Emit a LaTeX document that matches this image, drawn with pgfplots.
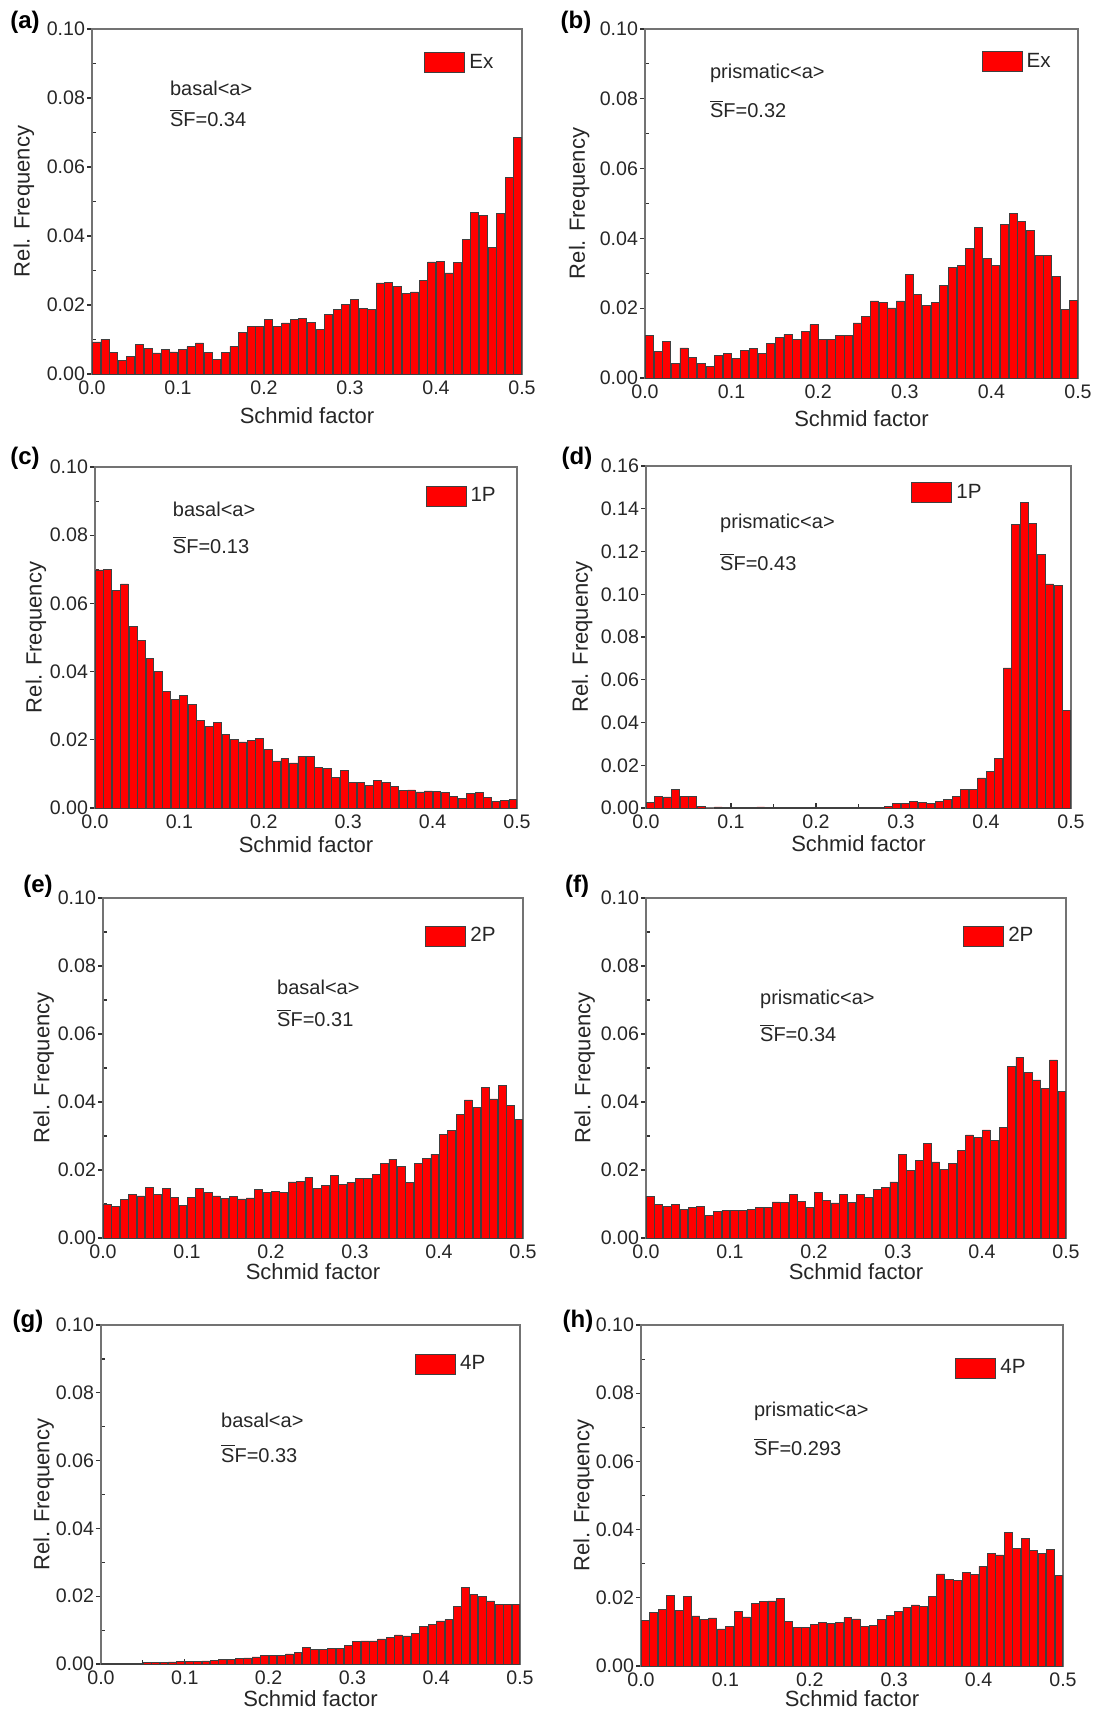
\documentclass[border=0pt]{standalone}
\usepackage{fontspec}
\setmainfont{Liberation Sans}
\usepackage{pgfplots}
\usepackage{pgfplotstable}
\pgfplotsset{compat=1.18}

\pgfplotstableread{
x a b c d e f g h
0.005 0.0093 0.0122 0.0698 0.0028 0.0098 0.0122 0.0001 0.0134
0.015 0.0100 0.0075 0.0700 0.0055 0.0092 0.0098 0.0001 0.0156
0.025 0.0063 0.0105 0.0639 0.0052 0.0113 0.0093 0.0002 0.0166
0.035 0.0039 0.0041 0.0657 0.0086 0.0127 0.0098 0.0002 0.0207
0.045 0.0051 0.0086 0.0533 0.0056 0.0124 0.0085 0.0003 0.0162
0.055 0.0085 0.0060 0.0492 0.0055 0.0150 0.0091 0.0004 0.0203
0.065 0.0073 0.0041 0.0439 0.0008 0.0128 0.0093 0.0004 0.0147
0.075 0.0061 0.0032 0.0400 0.0000 0.0146 0.0067 0.0005 0.0137
0.085 0.0071 0.0065 0.0342 0.0005 0.0119 0.0078 0.0006 0.0141
0.095 0.0064 0.0070 0.0319 0.0003 0.0097 0.0081 0.0007 0.0109
0.105 0.0071 0.0057 0.0329 0.0002 0.0119 0.0080 0.0008 0.0117
0.115 0.0079 0.0078 0.0303 0.0002 0.0147 0.0080 0.0008 0.0161
0.125 0.0090 0.0084 0.0257 0.0001 0.0135 0.0085 0.0009 0.0144
0.135 0.0062 0.0070 0.0238 0.0005 0.0124 0.0091 0.0011 0.0183
0.145 0.0043 0.0100 0.0251 0.0003 0.0117 0.0090 0.0013 0.0190
0.155 0.0063 0.0116 0.0216 0.0002 0.0122 0.0106 0.0014 0.0191
0.165 0.0080 0.0125 0.0200 0.0003 0.0115 0.0105 0.0016 0.0197
0.175 0.0120 0.0111 0.0194 0.0002 0.0118 0.0127 0.0018 0.0131
0.185 0.0138 0.0134 0.0197 0.0003 0.0144 0.0107 0.0021 0.0112
0.195 0.0139 0.0153 0.0205 0.0002 0.0134 0.0090 0.0026 0.0112
0.205 0.0157 0.0111 0.0172 0.0002 0.0138 0.0133 0.0026 0.0123
0.215 0.0138 0.0110 0.0138 0.0003 0.0134 0.0110 0.0026 0.0129
0.225 0.0148 0.0122 0.0145 0.0003 0.0165 0.0103 0.0030 0.0124
0.235 0.0159 0.0122 0.0132 0.0004 0.0166 0.0128 0.0035 0.0129
0.245 0.0160 0.0158 0.0152 0.0004 0.0178 0.0105 0.0048 0.0142
0.255 0.0150 0.0177 0.0152 0.0004 0.0147 0.0127 0.0042 0.0138
0.265 0.0130 0.0221 0.0118 0.0004 0.0154 0.0120 0.0044 0.0116
0.275 0.0172 0.0216 0.0117 0.0002 0.0184 0.0142 0.0046 0.0118
0.285 0.0186 0.0201 0.0090 0.0009 0.0157 0.0149 0.0046 0.0137
0.295 0.0201 0.0221 0.0109 0.0023 0.0164 0.0165 0.0056 0.0149
0.305 0.0215 0.0297 0.0076 0.0020 0.0175 0.0245 0.0066 0.0161
0.315 0.0189 0.0240 0.0074 0.0030 0.0176 0.0199 0.0068 0.0173
0.325 0.0186 0.0208 0.0066 0.0025 0.0188 0.0228 0.0068 0.0179
0.335 0.0264 0.0217 0.0081 0.0020 0.0220 0.0279 0.0074 0.0174
0.345 0.0266 0.0266 0.0075 0.0030 0.0232 0.0224 0.0078 0.0203
0.355 0.0254 0.0317 0.0064 0.0039 0.0210 0.0201 0.0086 0.0270
0.365 0.0233 0.0322 0.0052 0.0056 0.0164 0.0220 0.0083 0.0253
0.375 0.0238 0.0371 0.0053 0.0088 0.0220 0.0258 0.0091 0.0251
0.385 0.0272 0.0431 0.0047 0.0088 0.0234 0.0303 0.0111 0.0274
0.395 0.0325 0.0343 0.0050 0.0141 0.0247 0.0297 0.0118 0.0269
0.405 0.0327 0.0322 0.0048 0.0172 0.0305 0.0318 0.0127 0.0292
0.415 0.0293 0.0441 0.0046 0.0231 0.0317 0.0286 0.0131 0.0330
0.425 0.0324 0.0471 0.0035 0.0655 0.0364 0.0326 0.0171 0.0326
0.435 0.0389 0.0449 0.0029 0.1328 0.0406 0.0504 0.0226 0.0393
0.445 0.0469 0.0424 0.0044 0.1431 0.0383 0.0532 0.0206 0.0344
0.455 0.0459 0.0350 0.0046 0.1330 0.0442 0.0487 0.0200 0.0373
0.465 0.0368 0.0352 0.0032 0.1188 0.0409 0.0465 0.0186 0.0338
0.475 0.0466 0.0292 0.0020 0.1048 0.0450 0.0441 0.0176 0.0330
0.485 0.0569 0.0197 0.0023 0.1041 0.0391 0.0524 0.0176 0.0343
0.495 0.0685 0.0223 0.0024 0.0458 0.0350 0.0431 0.0177 0.0266
}\sfdata

\pgfplotsset{
  sfax/.style={
    scale only axis, anchor=north west,
    xmin=0, xmax=0.5, ymin=0, ymax=0.10,
    xtick={0,0.1,0.2,0.3,0.4,0.5},
    ytick={0,0.02,0.04,0.06,0.08,0.10},
    minor x tick num=1, minor y tick num=1,
    tick align=inside, xtick pos=bottom, ytick pos=left,
    major tick length=2.5pt, minor tick length=2pt,
    major y tick style={xshift=-2.5pt},
    axis line style={black!55, line width=0.7pt},
    every tick/.append style={black!80, line width=0.6pt},
    scaled x ticks=false, scaled y ticks=false,
    /pgf/number format/assume math mode=true,
    tick label style={black!85, font=\fontsize{9.8}{11}\selectfont},
    xticklabel style={/pgf/number format/.cd, fixed, fixed zerofill, precision=1},
    yticklabel style={/pgf/number format/.cd, fixed, fixed zerofill, precision=2},
    xlabel={Schmid factor}, ylabel={Rel. Frequency},
    label style={black!85, font=\fontsize{11}{12}\selectfont},
    legend style={draw=none, fill=none, anchor=north east, inner sep=0pt,
      font=\fontsize{10.3}{12}\selectfont, text=black!85},
    legend cell align=left,
  },
  sfbar/.style={ybar, bar width=0.0093, fill=red, draw=black!75, line width=0.35pt,
    legend image code/.code={\draw[fill=red, draw=black!75, line width=0.5pt] (0pt,-5pt) rectangle (20pt,5pt);}},
}
\tikzset{ann/.style={anchor=west, font=\fontsize{10}{12}\selectfont, text=black!85}}
\newcommand{\SF}{$\overline{\mbox{S}}$F}

\begin{document}
\begin{tikzpicture}
\useasboundingbox (0,0) rectangle (548pt,-856pt);

% (a)
\begin{axis}[sfax, at={(46pt,-14.5pt)}, width=215pt, height=172.5pt,
  legend style={at={(0.944,0.94)}},
  ylabel style={at={(axis description cs:-0.158,0.5)}, anchor=center},
  xlabel style={at={(axis description cs:0.5,-0.122)}, anchor=center}]
\addplot[sfbar] table[x=x, y=a] {\sfdata};
\addlegendentry{Ex}
\node[ann] at (rel axis cs:0.165,0.829) {basal<a>};
\node[ann] at (rel axis cs:0.165,0.742) {\SF=0.34};
\end{axis}

% (b)
\begin{axis}[sfax, at={(322.5pt,-14.5pt)}, width=216.5pt, height=174.5pt,
  legend style={at={(0.947,0.943)}},
  ylabel style={at={(axis description cs:-0.152,0.5)}, anchor=center},
  xlabel style={at={(axis description cs:0.5,-0.115)}, anchor=center}]
\addplot[sfbar] table[x=x, y=b] {\sfdata};
\addlegendentry{Ex}
\node[ann] at (rel axis cs:0.134,0.874) {prismatic<a>};
\node[ann] at (rel axis cs:0.134,0.771) {\SF=0.32};
\end{axis}

% (c)
\begin{axis}[sfax, at={(47.5pt,-233.5pt)}, width=211pt, height=170.5pt,
  legend style={at={(0.96,0.953)}},
  ylabel style={at={(axis description cs:-0.14,0.5)}, anchor=center},
  xlabel style={at={(axis description cs:0.5,-0.106)}, anchor=center}]
\addplot[sfbar] table[x=x, y=c] {\sfdata};
\addlegendentry{1P}
\node[ann] at (rel axis cs:0.168,0.877) {basal<a>};
\node[ann] at (rel axis cs:0.168,0.771) {\SF=0.13};
\end{axis}

% (d)
\begin{axis}[sfax, at={(323pt,-233pt)}, width=212.5pt, height=171pt,
  ymax=0.16, ytick={0,0.02,0.04,0.06,0.08,0.10,0.12,0.14,0.16}, minor y tick num=0,
  legend style={at={(0.8,0.96)}},
  ylabel style={at={(axis description cs:-0.15,0.5)}, anchor=center},
  xlabel style={at={(axis description cs:0.5,-0.105)}, anchor=center}]
\addplot[sfbar] table[x=x, y=d] {\sfdata};
\addlegendentry{1P}
\node[ann] at (rel axis cs:0.158,0.833) {prismatic<a>};
\node[ann] at (rel axis cs:0.158,0.719) {\SF=0.43};
\end{axis}

% (e)
\begin{axis}[sfax, at={(51.5pt,-449pt)}, width=210pt, height=170pt,
  legend style={at={(0.945,0.926)}},
  ylabel style={at={(axis description cs:-0.141,0.5)}, anchor=center},
  xlabel style={at={(axis description cs:0.5,-0.1)}, anchor=center}]
\addplot[sfbar] table[x=x, y=e] {\sfdata};
\addlegendentry{2P}
\node[ann] at (rel axis cs:0.398,0.738) {basal<a>};
\node[ann] at (rel axis cs:0.398,0.647) {\SF=0.31};
\end{axis}

% (f)
\begin{axis}[sfax, at={(323pt,-449pt)}, width=210pt, height=170pt,
  legend style={at={(0.933,0.926)}},
  ylabel style={at={(axis description cs:-0.146,0.5)}, anchor=center},
  xlabel style={at={(axis description cs:0.5,-0.1)}, anchor=center}]
\addplot[sfbar] table[x=x, y=f] {\sfdata};
\addlegendentry{2P}
\node[ann] at (rel axis cs:0.255,0.703) {prismatic<a>};
\node[ann] at (rel axis cs:0.255,0.603) {\SF=0.34};
\end{axis}

% (g)
\begin{axis}[sfax, at={(50.5pt,-662.5pt)}, width=209.5pt, height=169.5pt,
  legend style={at={(0.928,0.923)}},
  ylabel style={at={(axis description cs:-0.137,0.5)}, anchor=center},
  xlabel style={at={(axis description cs:0.5,-0.103)}, anchor=center}]
\addplot[sfbar] table[x=x, y=g] {\sfdata};
\addlegendentry{4P}
\node[ann] at (rel axis cs:0.27,0.72) {basal<a>};
\node[ann] at (rel axis cs:0.27,0.622) {\SF=0.33};
\end{axis}

% (h)
\begin{axis}[sfax, at={(320.5pt,-662.5pt)}, width=211pt, height=170.5pt,
  legend style={at={(0.922,0.912)}},
  ylabel style={at={(axis description cs:-0.136,0.5)}, anchor=center},
  xlabel style={at={(axis description cs:0.5,-0.097)}, anchor=center}]
\addplot[sfbar] table[x=x, y=h] {\sfdata};
\addlegendentry{4P}
\node[ann] at (rel axis cs:0.251,0.748) {prismatic<a>};
\node[ann] at (rel axis cs:0.251,0.642) {\SF=0.293};
\end{axis}

\begin{scope}[every node/.style={font=\bfseries\fontsize{12}{14}\selectfont}]
\node at (12.5pt,-11pt) {(a)};
\node at (288pt,-11pt) {(b)};
\node at (12.5pt,-229pt) {(c)};
\node at (288.5pt,-229pt) {(d)};
\node at (19pt,-443pt) {(e)};
\node at (288.5pt,-443pt) {(f)};
\node at (14pt,-660.5pt) {(g)};
\node at (289pt,-660.5pt) {(h)};
\end{scope}
\end{tikzpicture}
\end{document}
